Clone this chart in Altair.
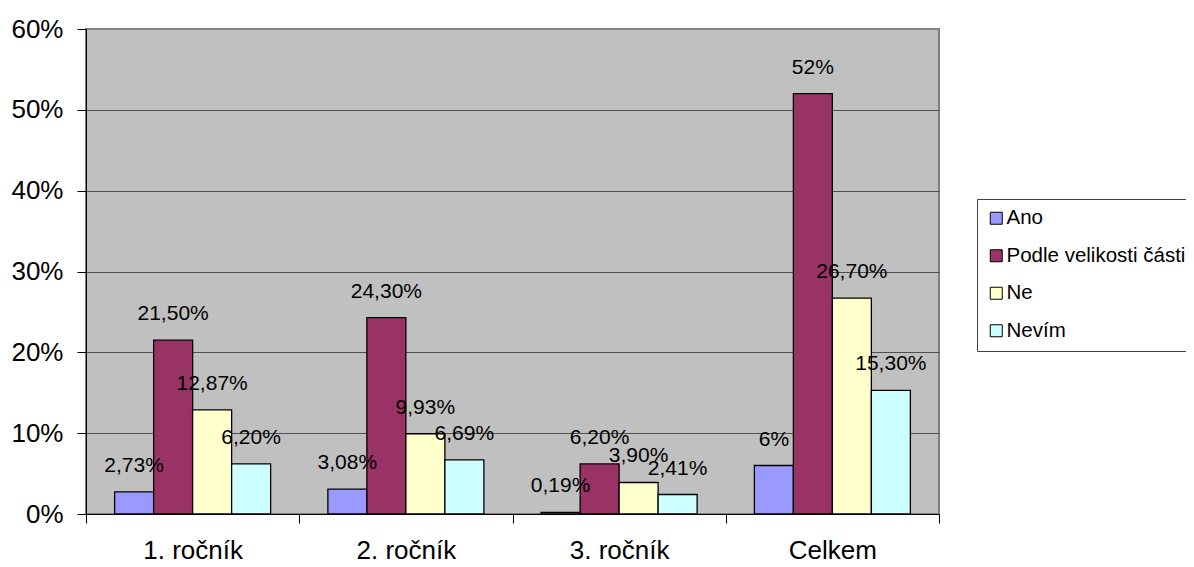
import altair as alt
import pandas as pd

categories = ["1. ročník", "2. ročník", "3. ročník", "Celkem"]
series = ["Ano", "Podle velikosti části", "Ne", "Nevím"]
colors = ["#9999FF", "#993366", "#FFFFCC", "#CCFFFF"]

ano = [2.73, 3.08, 0.19, 6]
podle = [21.50, 24.30, 6.20, 52]
ne = [12.87, 9.93, 3.90, 26.70]
nevim = [6.20, 6.69, 2.41, 15.30]

labels_ano = ["2,73%", "3,08%", "0,19%", "6%"]
labels_podle = ["21,50%", "24,30%", "6,20%", "52%"]
labels_ne = ["12,87%", "9,93%", "3,90%", "26,70%"]
labels_nevim = ["6,20%", "6,69%", "2,41%", "15,30%"]

y_ticks = [0, 10, 20, 30, 40, 50, 60]

rows = []
for s, vals, labs in zip(series, [ano, podle, ne, nevim],
                         [labels_ano, labels_podle, labels_ne, labels_nevim]):
    for c, v, l in zip(categories, vals, labs):
        rows.append({"category": c, "series": s, "value": v, "label": l})
df = pd.DataFrame(rows)

FONT = "Liberation Sans"

x_enc = alt.X(
    "category:N", sort=categories,
    scale=alt.Scale(paddingInner=0, paddingOuter=0),
    axis=alt.Axis(title=None, labelAngle=0, tickBand="extent", labelFontSize=26,
                  labelFont=FONT, labelColor="black", tickColor="black", tickSize=9,
                  labelPadding=14, domainColor="black", grid=False),
)
xoff_enc = alt.XOffset("series:N", sort=series,
                       scale=alt.Scale(paddingOuter=0.734, paddingInner=0))
y_enc = alt.Y(
    "value:Q", scale=alt.Scale(domain=[0, 60], nice=False),
    axis=alt.Axis(values=y_ticks, labelExpr="datum.value + '%'", title=None, grid=True,
                  gridColor={"condition": {"test": "datum.value >= 60", "value": "#888888"},
                             "value": "#505050"},
                  gridWidth=1, domainColor="black", tickColor="black", tickSize=9,
                  labelPadding=14, labelFontSize=26, labelFont=FONT, labelColor="black"),
)

bars = alt.Chart(df).mark_bar(stroke="black", strokeWidth=1.3).encode(
    x=x_enc,
    xOffset=xoff_enc,
    y=y_enc,
    color=alt.Color(
        "series:N",
        scale=alt.Scale(domain=series, range=colors),
        legend=alt.Legend(title=None, orient="none", legendX=891, legendY=170,
                          symbolType="square", symbolSize=144, symbolStrokeColor="black",
                          symbolStrokeWidth=1, labelFontSize=20.5, labelFont=FONT,
                          labelColor="black", strokeColor="#404040", fillColor="white",
                          padding=9, rowPadding=16.5, labelOffset=0, labelLimit=400),
    ),
)

text = alt.Chart(df).mark_text(dy=-26, baseline="middle", fontSize=21, font=FONT,
                               color="black").encode(
    x=x_enc,
    xOffset=xoff_enc,
    y=y_enc,
    text="label:N",
)

chart = alt.layer(bars, text).properties(
    width=853, height=485,
    autosize=alt.AutoSizeParams(type="none"),
    padding={"left": 78, "top": 21, "right": 247, "bottom": 51},
    background="white",
).configure_view(fill="#C0C0C0", stroke="#808080", strokeWidth=2)

chart.save("out.html", embed_options={"renderer": "svg", "actions": False})
